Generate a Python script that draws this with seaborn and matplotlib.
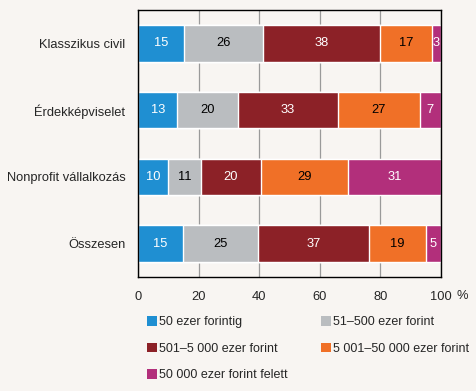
import numpy as np
import pandas as pd
import matplotlib
matplotlib.use("Agg")
import matplotlib.pyplot as plt
import seaborn as sns
from matplotlib.patches import Patch

categories = ["Klasszikus civil", "Érdekképviselet", "Nonprofit vállalkozás", "Összesen"]
series = ["50 ezer forintig", "51–500 ezer forint", "501–5 000 ezer forint",
          "5 001–50 000 ezer forint", "50 000 ezer forint felett"]
v_50 = [15, 13, 10, 15]
v_500 = [26, 20, 11, 25]
v_5000 = [38, 33, 20, 37]
v_50000 = [17, 27, 29, 19]
v_felett = [3, 7, 31, 5]

colors = ["#1f8fd2", "#babdc0", "#8c2127", "#f07027", "#b22f7b"]
text_colors = ["white", "black", "white", "black", "white"]
BG = "#f8f5f2"
FS = 9.3

sns.set_style("white")
plt.rcParams["font.family"] = ["Liberation Sans", "DejaVu Sans"]

vals = np.array([v_50, v_500, v_5000, v_50000, v_felett], dtype=float)
shares = vals / vals.sum(axis=0) * 100
cum = shares.cumsum(axis=0)

fig = plt.figure(figsize=(4.77, 3.91), dpi=100, facecolor=BG)
ax = fig.add_axes([0.2893, 0.2916, 0.6352, 0.6828])
ax.set_facecolor(BG)

# draw from the longest cumulative bar back to the shortest so they stack
for i in reversed(range(len(series))):
    df = pd.DataFrame({"cat": categories, "val": cum[i]})
    sns.barplot(data=df, x="val", y="cat", orient="h", color=colors[i],
                width=0.55, saturation=1, ax=ax, zorder=2)

for i in range(len(series)):
    for j in range(len(categories)):
        ax.text(cum[i, j] - shares[i, j] / 2, j, f"{int(vals[i, j])}",
                ha="center", va="center", color=text_colors[i], fontsize=FS, zorder=3)

ax.set_xlim(0, 100)
ax.set_ylim(3.5, -0.5)
ax.set_xticks([0, 20, 40, 60, 80, 100])
ax.set_xticklabels(["0", "20", "40", "60", "80", "100"], fontsize=FS)
ax.xaxis.grid(True, color="#9a9a9a", linewidth=0.9, zorder=0)
ax.set_axisbelow(True)
ax.tick_params(axis="x", length=5, width=1, color="black", direction="out", pad=5)
ax.tick_params(axis="y", which="major", length=0, pad=9, labelsize=FS)
ax.set_yticks([-0.5, 0.5, 1.5, 2.5, 3.5], minor=True)
ax.tick_params(axis="y", which="minor", length=5, width=1, color="black", direction="out")
ax.set_xlabel("")
ax.set_ylabel("")
for s in ax.spines.values():
    s.set_color("black")
    s.set_linewidth(1)

fig.text(462 / 477, 1 - 296 / 391, "%", ha="center", va="center", fontsize=FS)

handles = [Patch(facecolor=c, edgecolor="none") for c in colors]
order = [0, 2, 4, 1, 3]
fig.legend([handles[k] for k in order], [series[k] for k in order],
           ncol=2, loc="upper left", bbox_to_anchor=(147 / 477, 1 - 316 / 391),
           frameon=False, fontsize=9.0, handlelength=0.8, handleheight=0.8,
           handletextpad=0.2, columnspacing=2.6, labelspacing=1.15, borderpad=0,
           borderaxespad=0)

fig.savefig("out.png", dpi=100, facecolor=BG)
